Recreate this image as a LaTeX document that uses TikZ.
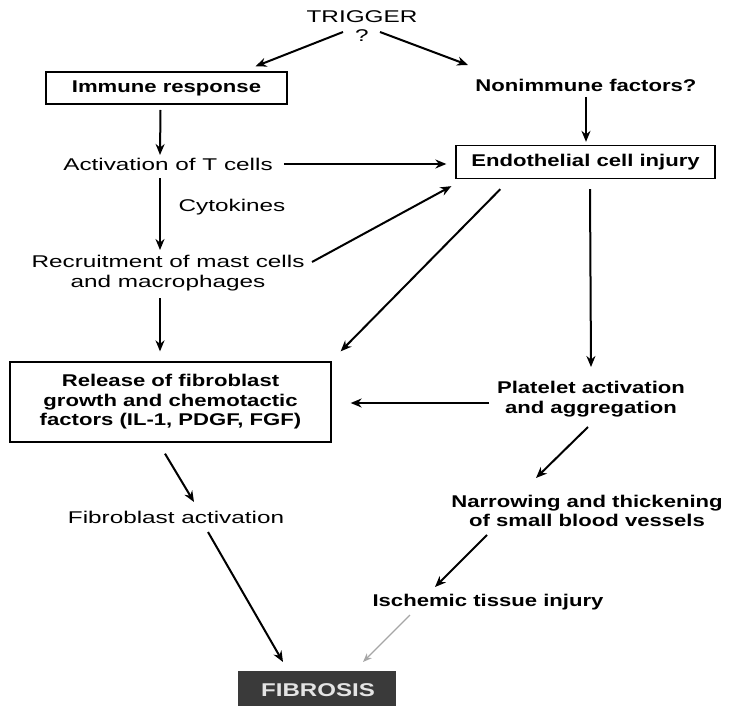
\documentclass[tikz,border=0pt]{standalone}
\usepackage{fontspec}
\setmainfont{Liberation Sans}[FakeStretch=1.3]
\newfontfamily\widefont{Liberation Sans}[FakeStretch=1.43]
\usetikzlibrary{calc, arrows.meta}
\definecolor{Dark}{HTML}{000000}
\definecolor{BoxFill}{HTML}{3A3A3A}
\definecolor{BoxText}{HTML}{E4E4E4}
\tikzset{
    plain/.style={align=center, inner sep=0pt, text=Dark, font=\widefont\fontsize{17}{19.5}\selectfont},
    plainb/.style={plain, font=\fontsize{17}{19.5}\selectfont\bfseries},
    flowbox/.style={plainb, draw=Dark, line width=1.3pt},
    arrow/.style={-{Stealth[length=11pt, width=9pt]}, line width=2pt, color=Dark},
    thinarrow/.style={-{Stealth[length=9pt, width=7pt]}, line width=1.2pt, color=gray!70},
}
\begin{document}
\begin{tikzpicture}[x=1pt, y=-1pt]
    \useasboundingbox (0,0) rectangle (741,706);

    % Trigger
    \node[plain] (trig) at (362,17) {TRIGGER};
    \node[plain] (qm) at (362,36) {?};

    % Left column
    \node[flowbox, minimum width=241pt, minimum height=32pt] (immune) at (166.5,88) {Immune response};
    \node[plain] (actT) at (168,164) {Activation of T cells};
    \node[plain] (cyto) at (232,207) {Cytokines};
    \node[plain] (recruit) at (168,273) {Recruitment of mast cells\\and macrophages};
    \node[flowbox, minimum width=321pt, minimum height=80pt] (release) at (170.5,402) {Release of fibroblast\\growth and chemotactic\\factors (IL-1, PDGF, FGF)};
    \node[plain] (fibro) at (176,517) {Fibroblast activation};

    % Right column
    \node[plainb] (nonimm) at (586,85) {Nonimmune factors?};
    \node[flowbox, minimum width=259pt, minimum height=33pt] (endo) at (585.5,162) {Endothelial cell injury};
    \node[plainb] (platelet) at (591,399) {Platelet activation\\and aggregation};
    \node[plainb] (narrow) at (587,511) {Narrowing and thickening\\of small blood vessels};
    \node[plainb] (isch) at (488,602) {Ischemic tissue injury};

    % Fibrosis
    \fill[BoxFill] (238,671) rectangle (396,706);
    \node[plainb, text=BoxText, font=\fontsize{18.5}{20}\selectfont\bfseries] (fibrosis) at (318,690) {FIBROSIS};

    % Arrows
    \draw[arrow] ($(qm)+(-19,-4)$) -- ($(immune.north)+(89,-5)$);
    \draw[arrow] ($(qm)+(18,-4)$) -- ($(nonimm)+(-118,-20)$);
    \draw[arrow] ($(immune)+(-6,22)$) -- ($(actT)+(-8,-9)$);
    \draw[arrow] ($(nonimm)+(0,12)$) -- ($(endo.north)+(0.5,-3)$);
    \draw[arrow] ($(actT.east)+(11,0)$) -- ($(endo.west)+(-9,2)$);
    \draw[arrow] ($(actT)+(-8,14)$) -- ($(recruit)+(-8,-23)$);
    \draw[arrow] ($(recruit)+(144,-11)$) -- ($(endo.south west)+(-4,7)$);
    \draw[arrow] ($(endo.south west)+(45,10)$) -- ($(release.north east)+(9,-10)$);
    \draw[arrow] ($(endo.south)+(4.5,10)$) -- ($(platelet)+(0,-32)$);
    \draw[arrow] ($(recruit)+(-8,25)$) -- ($(release.north)+(-10.5,-10)$);
    \draw[arrow] ($(platelet)+(-102,4)$) -- ($(release.east)+(19,1)$);
    \draw[arrow] ($(platelet)+(-3,28)$) -- ($(narrow)+(-51,-33)$);
    \draw[arrow] ($(release.south)+(-5.5,11)$) -- ($(fibro)+(18,-15)$);
    \draw[arrow] ($(narrow)+(-100,24)$) -- ($(isch)+(-53,-15)$);
    \draw[arrow] ($(fibro)+(32,15)$) -- ($(fibrosis)+(-35,-28)$);
    \draw[thinarrow] ($(isch)+(-78,13)$) -- ($(fibrosis)+(45,-28)$);
\end{tikzpicture}
\end{document}
